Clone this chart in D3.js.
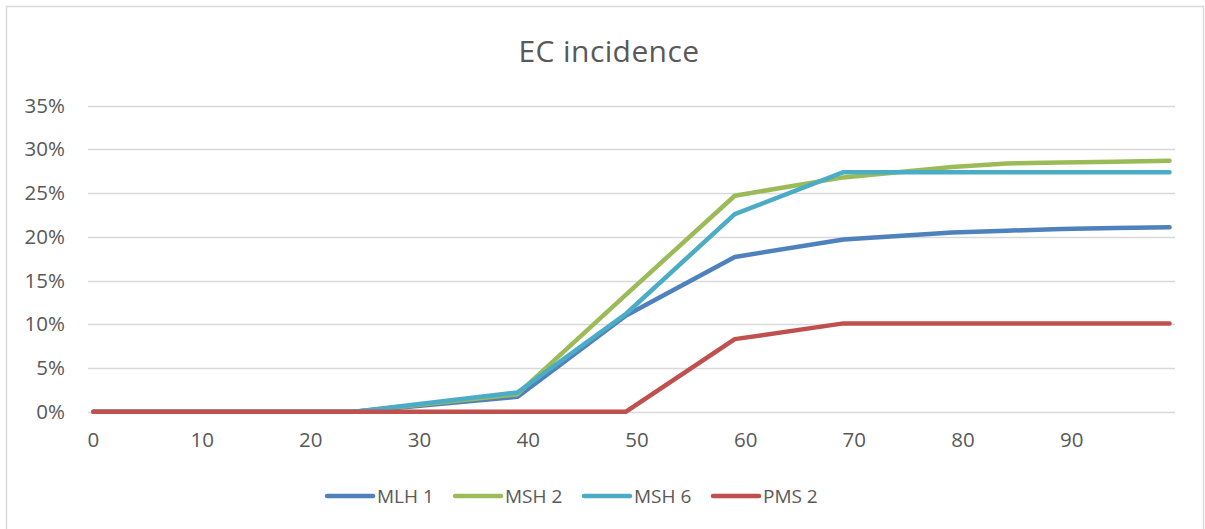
<!DOCTYPE html>
<html>
<head>
<meta charset="utf-8">
<script src="https://cdn.jsdelivr.net/npm/d3@7"></script>
<style>
  html, body { margin: 0; padding: 0; background: #fff; }
  svg { display: block; font-family: "Open Sans", "Lato", sans-serif; }
</style>
</head>
<body>
<svg id="chart" width="1205" height="529"></svg>
<script>
// Age categories along the x axis (one per year) and the labelled ticks
const categories = d3.range(0, 100);
const xTickLabels = [0, 10, 20, 30, 40, 50, 60, 70, 80, 90];
const yTicks = [0, 0.05, 0.10, 0.15, 0.20, 0.25, 0.30, 0.35];

// Cumulative endometrial cancer incidence by age: [age, incidence]
const mlh1 = [[0, 0], [24, 0], [39, 0.017], [49, 0.110], [59, 0.177], [69, 0.197],
              [74, 0.201], [79, 0.205], [84, 0.207], [89, 0.209], [94, 0.210], [99, 0.211]];
const msh2 = [[0, 0], [24, 0], [39, 0.020], [49, 0.134], [59, 0.247], [69, 0.268],
              [74, 0.274], [79, 0.280], [84, 0.284], [89, 0.285], [94, 0.286], [99, 0.287]];
const msh6 = [[0, 0], [24, 0], [39, 0.022], [49, 0.112], [59, 0.226], [69, 0.274],
              [79, 0.274], [89, 0.274], [99, 0.274]];
const pms2 = [[0, 0], [24, 0], [39, 0], [49, 0], [59, 0.083], [69, 0.101],
              [79, 0.101], [89, 0.101], [99, 0.101]];

const seriesNames = ["MLH 1", "MSH 2", "MSH 6", "PMS 2"];
const seriesColors = ["#4f81bd", "#9bbb59", "#4bacc6", "#c0504d"];
const seriesValues = [mlh1, msh2, msh6, pms2];

const svg = d3.select("#chart");
const textColor = "#595959";
const gridColor = "#d9d9d9";

// Outer chart frame
svg.append("rect")
  .attr("x", 6.5).attr("y", 6.5)
  .attr("width", 1197).attr("height", 560)
  .attr("fill", "none").attr("stroke", gridColor).attr("stroke-width", 1.5);

const plot = { left: 88, right: 1175, top: 105.7, bottom: 411.7 };

const x = d3.scaleBand()
  .domain(categories)
  .range([plot.left, plot.right]);
const xc = d => x(d) + x.bandwidth() / 2;

const y = d3.scaleLinear()
  .domain([0, 0.35])
  .range([plot.bottom, plot.top]);

// Title
svg.append("text")
  .attr("x", 609).attr("y", 62)
  .attr("text-anchor", "middle")
  .attr("fill", textColor)
  .style("font-size", "30px")
  .style("letter-spacing", "0.4px")
  .text("EC incidence");

// Horizontal gridlines
svg.append("g")
  .selectAll("line")
  .data(yTicks)
  .join("line")
  .attr("x1", plot.left).attr("x2", plot.right)
  .attr("y1", d => Math.round(y(d)) + 0.5).attr("y2", d => Math.round(y(d)) + 0.5)
  .attr("stroke", gridColor).attr("stroke-width", 1.5);

// Y axis labels
const yAxis = d3.axisLeft(y)
  .tickValues(yTicks)
  .tickFormat(d3.format(".0%"))
  .tickSize(0)
  .tickPadding(0);
const yg = svg.append("g")
  .attr("transform", `translate(${plot.left - 23},0)`)
  .call(yAxis);
yg.select(".domain").remove();
yg.selectAll("text")
  .attr("fill", textColor)
  .style("font-family", "Open Sans, Lato, sans-serif")
  .style("font-size", "20.5px");

// X axis labels
const xAxis = d3.axisBottom(x)
  .tickValues(xTickLabels)
  .tickSize(0)
  .tickPadding(0);
const xg = svg.append("g")
  .attr("transform", `translate(0,${plot.bottom + 21})`)
  .call(xAxis);
xg.select(".domain").remove();
xg.selectAll("text")
  .attr("fill", textColor)
  .style("font-family", "Open Sans, Lato, sans-serif")
  .style("font-size", "20.5px");

// Series lines
const line = d3.line()
  .x(d => xc(d[0]))
  .y(d => y(d[1]));

svg.append("g")
  .selectAll("path")
  .data(seriesValues)
  .join("path")
  .attr("d", line)
  .attr("fill", "none")
  .attr("stroke", (d, i) => seriesColors[i])
  .attr("stroke-width", 4.5)
  .attr("stroke-linejoin", "round")
  .attr("stroke-linecap", "round");

// Legend
const legendX = [327, 455, 584, 713];
const legend = svg.append("g")
  .selectAll("g")
  .data(seriesNames)
  .join("g")
  .attr("transform", (d, i) => `translate(${legendX[i]},496)`);
legend.append("line")
  .attr("x1", 0).attr("x2", 46)
  .attr("stroke", (d, i) => seriesColors[i])
  .attr("stroke-width", 4.5)
  .attr("stroke-linecap", "round");
legend.append("text")
  .attr("x", 50).attr("dy", "0.36em")
  .attr("fill", textColor)
  .style("font-size", "19px")
  .text(d => d);
</script>
</body>
</html>
